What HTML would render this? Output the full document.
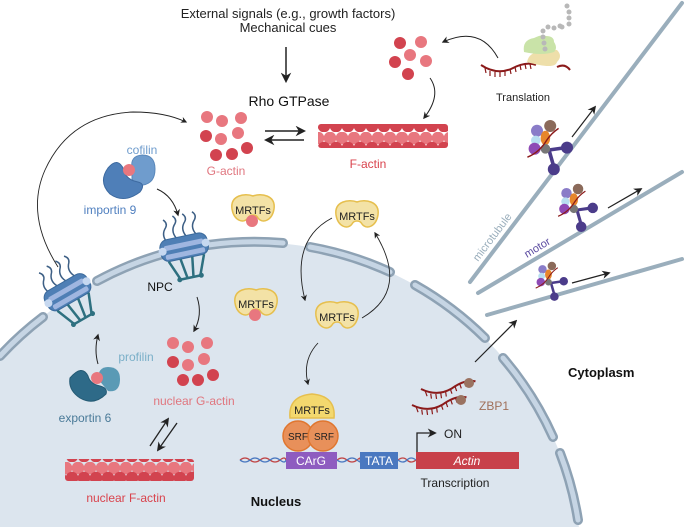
<!DOCTYPE html>
<html><head><meta charset="utf-8"><style>
html,body{margin:0;padding:0;background:#fff;overflow:hidden;width:685px;height:527px}
svg{display:block;overflow:hidden}
text{font-family:"Liberation Sans",sans-serif}
</style></head><body>
<svg width="685" height="527" viewBox="0 0 685 527" xmlns="http://www.w3.org/2000/svg">
<defs>
<clipPath id="cp"><rect width="685" height="527"/></clipPath>
<marker id="ah" viewBox="0 0 10 10" refX="8" refY="5" markerWidth="7" markerHeight="7" orient="auto-start-reverse"><path d="M0,0 L10,5 L0,10 L3,5Z" fill="#222"/></marker>
<pattern id="fil" width="12" height="22" patternUnits="userSpaceOnUse">
<circle cx="6" cy="6" r="6.3" fill="#e8777f"/><circle cx="0" cy="16" r="6.3" fill="#d2434f"/><circle cx="12" cy="16" r="6.3" fill="#d2434f"/>
</pattern>
<g id="mrtf"><path d="M-21,-1 C-23,-15 -8,-17 0,-14 C8,-17 23,-15 21,-1 C19,11 9,14 5,8 C3,4 -3,4 -5,8 C-9,14 -19,11 -21,-1Z" fill="#f3e2a6" stroke="#e6bf4e" stroke-width="1.5"/></g>
<g id="npc">
<path d="M-6,-20 q-4,-8 2,-14 q3,-4 -1,-8 M4,-20 q-4,-8 2,-14 q3,-4 -1,-8 M14,-20 q-4,-8 2,-14 q3,-4 -1,-8 M-16,-18 q-4,-8 2,-14 q3,-4 -1,-8" stroke="#3d5f85" stroke-width="1.5" fill="none"/>
<rect x="-24" y="-20" width="48" height="22" rx="8" fill="#4f7fb5" stroke="#3b6a9c"/>
<rect x="-20" y="-14" width="40" height="5" rx="2" fill="#9fb6e0"/>
<rect x="-20" y="-5" width="40" height="5" rx="2" fill="#9fb6e0"/>
<circle cx="-22" cy="-9" r="4" fill="#c6d8f0"/><circle cx="22" cy="-9" r="4" fill="#c6d8f0"/>
<path d="M-18,2 L-10,22 M-6,2 L-3,22 M6,2 L3,22 M18,2 L10,22 M-12,22 L12,22" stroke="#2e7080" stroke-width="2.5" fill="none"/>
<circle cx="-11" cy="22" r="2.5" fill="#2e7080"/><circle cx="11" cy="22" r="2.5" fill="#2e7080"/>
</g>
<g id="motor">
<path d="M0,0 L14,-2 M0,0 L4,14" stroke="#4b3c8a" stroke-width="3"/>
<circle cx="15" cy="-2" r="5" fill="#4b3c8a"/><circle cx="4" cy="16" r="5" fill="#4b3c8a"/>
<circle cx="-10" cy="-16" r="5" fill="#8a7cc8"/><circle cx="-11" cy="-8" r="4" fill="#b8def0"/><circle cx="-12" cy="-1" r="5" fill="#8e4ab5"/>
<ellipse cx="-3" cy="-10" rx="4" ry="6" fill="#e7862b"/><circle cx="-3" cy="-1" r="4" fill="#777"/><circle cx="1" cy="-20" r="5" fill="#8b6a5a"/>
<path d="M-18,6 Q-8,2 -2,-8 Q2,-14 8,-18" stroke="#8b1a1a" stroke-width="1.2" fill="none"/>
</g>
<g id="mrna"><path d="M0,0 Q15,10 30,4 Q45,-4 55,0" stroke="#8b1a1a" stroke-width="2" fill="none"/>
<path d="M4,3 l1,5 M9,6 l0,5 M14,7 l0,5 M19,7 l0,5 M24,6 l0,5 M29,4 l1,5 M34,2 l1,5 M39,0 l1,5 M44,-1 l1,5 M49,-1 l1,5" stroke="#8b1a1a" stroke-width="1.2"/></g>
</defs>
<g clip-path="url(#cp)">
<circle cx="252" cy="572" r="330" fill="#dce5ee"/>
<g fill="none" stroke-linecap="round">
<g stroke="#8ea2b4" stroke-width="10">
<path d="M0,356 A330,330 0 0 1 43,317"/>
<path d="M97,281 A330,330 0 0 1 163,254"/>
<path d="M208,245 A330,330 0 0 1 283,243"/>
<path d="M310,247 A330,330 0 0 1 390,272"/>
<path d="M415,285 A330,330 0 0 1 485,338"/>
<path d="M503,358 A330,330 0 0 1 553,437"/>
<path d="M560,453 A330,330 0 0 1 578,520"/>
</g>
<g stroke="#c6d5e4" stroke-width="5">
<path d="M0,356 A330,330 0 0 1 43,317"/>
<path d="M97,281 A330,330 0 0 1 163,254"/>
<path d="M208,245 A330,330 0 0 1 283,243"/>
<path d="M310,247 A330,330 0 0 1 390,272"/>
<path d="M415,285 A330,330 0 0 1 485,338"/>
<path d="M503,358 A330,330 0 0 1 553,437"/>
<path d="M560,453 A330,330 0 0 1 578,520"/>
</g>
</g>
</g>

<g stroke="#9aaebc" stroke-width="4" stroke-linecap="round">
<line x1="470" y1="282" x2="682" y2="3"/>
<line x1="478" y1="293" x2="682" y2="172"/>
<line x1="487" y1="315" x2="682" y2="259"/>
</g>
<text transform="translate(478,262) rotate(-53)" font-size="11" fill="#9aaebc">microtubule</text>
<text transform="translate(527,258) rotate(-31)" font-size="11" fill="#5a4aa0">motor</text>
<use href="#motor" transform="translate(549,150) scale(1.2)"/>
<use href="#motor" transform="translate(577,210) scale(1.05)"/>
<use href="#motor" transform="translate(551,283) scale(0.85)"/>
<g stroke="#222" stroke-width="1.2" marker-end="url(#ah)" fill="none">
<line x1="572" y1="137" x2="595" y2="107"/>
<line x1="608" y1="208" x2="641" y2="189"/>
<line x1="572" y1="283" x2="609" y2="273"/>
<line x1="475" y1="362" x2="516" y2="321"/>
</g>

<text x="288" y="18" font-size="13" text-anchor="middle" fill="#222">External signals (e.g., growth factors)</text>
<text x="288" y="32" font-size="13" text-anchor="middle" fill="#222">Mechanical cues</text>
<line x1="286" y1="47" x2="286" y2="81" stroke="#222" stroke-width="1.5" marker-end="url(#ah)"/>
<text x="289" y="106" font-size="14" text-anchor="middle" fill="#111">Rho GTPase</text>

<g>
<circle cx="207" cy="117" r="6" fill="#e8777f"/><circle cx="222" cy="121" r="6" fill="#e8777f"/><circle cx="241" cy="118" r="6" fill="#e8777f"/>
<circle cx="206" cy="136" r="6" fill="#d2434f"/><circle cx="221" cy="139" r="6" fill="#e8777f"/><circle cx="238" cy="133" r="6" fill="#e8777f"/>
<circle cx="216" cy="155" r="6" fill="#d2434f"/><circle cx="232" cy="154" r="6" fill="#d2434f"/><circle cx="247" cy="148" r="6" fill="#d2434f"/>
</g>
<text x="226" y="175" font-size="12" text-anchor="middle" fill="#e0767f">G-actin</text>
<line x1="265" y1="131" x2="304" y2="131" stroke="#222" stroke-width="1.5" marker-end="url(#ah)"/>
<line x1="304" y1="140" x2="266" y2="140" stroke="#222" stroke-width="1.5" marker-end="url(#ah)"/>
<rect x="318" y="124" width="130" height="24" fill="url(#fil)" rx="3"/>
<text x="368" y="168" font-size="12" text-anchor="middle" fill="#d9434d">F-actin</text>

<circle cx="400" cy="43" r="6" fill="#d2434f"/><circle cx="421" cy="42" r="6" fill="#e8777f"/>
<circle cx="410" cy="55" r="6" fill="#e8777f"/><circle cx="395" cy="62" r="6" fill="#d2434f"/>
<circle cx="426" cy="61" r="6" fill="#e8777f"/><circle cx="408" cy="74" r="6" fill="#d2434f"/>
<path d="M430,78 Q442,95 424,118" fill="none" stroke="#222" stroke-width="1" marker-end="url(#ah)"/>
<path d="M498,58 Q480,25 443,42" fill="none" stroke="#222" stroke-width="1" marker-end="url(#ah)"/>

<use href="#mrna" x="481" y="65"/>
<path d="M557,67 q8,-4 13,3" stroke="#8b1a1a" stroke-width="2" fill="none"/>
<path d="M527,62 q2,-10 14,-10 q8,-3 16,-2 q6,6 0,12 q-2,8 -30,0Z" fill="#eedfaa"/>
<path d="M524,52 q-2,-12 10,-14 q8,-4 12,-2 q8,0 8,6 q4,6 0,10 q-12,4 -30,0Z" fill="#c9e3a8"/>
<g fill="#b8b8b8"><circle cx="545" cy="49" r="2.5"/><circle cx="544" cy="43" r="2.5"/><circle cx="543" cy="37" r="2.5"/><circle cx="543" cy="31" r="2.5"/><circle cx="548" cy="27" r="2.5"/><circle cx="554" cy="28" r="2.5"/><circle cx="560" cy="26" r="2.5"/><circle cx="569" cy="24" r="2.5"/><circle cx="569" cy="18" r="2.5"/><circle cx="569" cy="12" r="2.5"/><circle cx="567" cy="6" r="2.5"/><circle cx="562" cy="27" r="2.5"/></g>
<text x="523" y="101" font-size="11" text-anchor="middle" fill="#222">Translation</text>

<path d="M58,267 Q25,215 45,170 Q70,115 133,112 Q165,112 186,122" fill="none" stroke="#222" stroke-width="0.9" marker-end="url(#ah)"/>

<path d="M132,168 q-2,-12 10,-13 q13,0 13,14 q0,14 -12,16 q-8,0 -11,-6Z" fill="#6f9ccd" stroke="#5a88bb"/>
<path d="M108,168 q-10,14 2,26 q14,10 30,-2 q6,-8 -2,-10 q-12,-2 -14,-12 q-6,-14 -16,-2Z" fill="#4f7fb8" stroke="#3d6aa0"/>
<circle cx="129" cy="170" r="6" fill="#e8777f"/>
<text x="142" y="154" font-size="12" text-anchor="middle" fill="#6f9ccd">cofilin</text>
<text x="110" y="214" font-size="12" text-anchor="middle" fill="#4f7fbf">importin 9</text>
<path d="M157,189 Q173,196 178,215" fill="none" stroke="#222" stroke-width="1" marker-end="url(#ah)"/>

<use href="#npc" transform="translate(72,300) rotate(-30)"/>
<use href="#npc" transform="translate(186,256) rotate(-12)"/>
<text x="160" y="291" font-size="12" text-anchor="middle" fill="#111">NPC</text>
<path d="M197,297 Q203,315 194,331" fill="none" stroke="#222" stroke-width="1" marker-end="url(#ah)"/>

<g>
<circle cx="173" cy="343" r="6" fill="#e8777f"/><circle cx="188" cy="347" r="6" fill="#e8777f"/><circle cx="207" cy="343" r="6" fill="#e8777f"/>
<circle cx="173" cy="362" r="6" fill="#d2434f"/><circle cx="188" cy="365" r="6" fill="#e8777f"/><circle cx="204" cy="359" r="6" fill="#e8777f"/>
<circle cx="183" cy="380" r="6" fill="#d2434f"/><circle cx="198" cy="380" r="6" fill="#d2434f"/><circle cx="213" cy="375" r="6" fill="#d2434f"/>
</g>
<text x="194" y="405" font-size="12" text-anchor="middle" fill="#e0767f">nuclear G-actin</text>
<line x1="150" y1="446" x2="168" y2="419" stroke="#222" stroke-width="1.3" marker-end="url(#ah)"/>
<line x1="177" y1="423" x2="158" y2="450" stroke="#222" stroke-width="1.3" marker-end="url(#ah)"/>
<rect x="65" y="459" width="129" height="22" fill="url(#fil)" rx="3"/>
<text x="126" y="502" font-size="12" text-anchor="middle" fill="#d9434d">nuclear F-actin</text>

<text x="136" y="361" font-size="12" text-anchor="middle" fill="#7aafc8">profilin</text>
<path d="M98,379 q0,-12 10,-12 q12,0 12,12 q0,14 -12,12Z" fill="#5a9ab5"/>
<path d="M70,378 q-2,12 10,20 q14,8 26,-4 q2,-6 -6,-8 q-10,-2 -12,-10 q-6,-12 -18,2Z" fill="#2e6a88" stroke="#245a74"/>
<circle cx="97" cy="378" r="6" fill="#e8777f"/>
<text x="85" y="422" font-size="12" text-anchor="middle" fill="#4a7a98">exportin 6</text>
<path d="M98,364 Q94,350 98,335" fill="none" stroke="#222" stroke-width="1" marker-end="url(#ah)"/>

<use href="#mrtf" x="253" y="210"/><circle cx="252" cy="221" r="6" fill="#e8777f"/>
<use href="#mrtf" x="357" y="216"/>
<use href="#mrtf" x="256" y="304"/><circle cx="255" cy="315" r="6" fill="#e8777f"/>
<use href="#mrtf" x="337" y="317"/>
<text x="253" y="214" font-size="11" text-anchor="middle" fill="#222">MRTFs</text>
<text x="357" y="220" font-size="11" text-anchor="middle" fill="#222">MRTFs</text>
<text x="256" y="308" font-size="11" text-anchor="middle" fill="#222">MRTFs</text>
<text x="337" y="321" font-size="11" text-anchor="middle" fill="#222">MRTFs</text>
<path d="M332,218 Q290,240 305,300" fill="none" stroke="#222" stroke-width="0.9" marker-end="url(#ah)"/>
<path d="M362,318 Q410,290 375,233" fill="none" stroke="#222" stroke-width="0.9" marker-end="url(#ah)"/>
<path d="M318,343 Q302,360 308,384" fill="none" stroke="#222" stroke-width="0.9" marker-end="url(#ah)"/>

<path d="M290,418 q-2,-22 22,-24 q24,2 22,24Z" fill="#f3d86e" stroke="#e6bf4e" stroke-width="1.5"/>
<text x="312" y="414" font-size="11" text-anchor="middle" fill="#222">MRTFs</text>
<circle cx="298" cy="436" r="15" fill="#e8905a" stroke="#e0762f" stroke-width="1.5"/>
<circle cx="323" cy="436" r="15" fill="#e8905a" stroke="#e0762f" stroke-width="1.5"/>
<text x="298" y="440" font-size="10" text-anchor="middle" fill="#222">SRF</text>
<text x="324" y="440" font-size="10" text-anchor="middle" fill="#222">SRF</text>
<path d="M240,460 q5,-4 10,0 t10,0 t10,0 t10,0 t6,0 M337,460 q5,-4 10,0 t10,0 t3,0 M398,460 q5,-4 9,0 t9,0" stroke="#c04444" stroke-width="1.3" fill="none"/>
<path d="M240,460 q5,4 10,0 t10,0 t10,0 t10,0 t6,0 M337,460 q5,4 10,0 t10,0 t3,0 M398,460 q5,4 9,0 t9,0" stroke="#4a78c0" stroke-width="1.3" fill="none"/>
<rect x="286" y="452" width="51" height="17" fill="#8e5cc0"/>
<text x="311" y="465" font-size="12" text-anchor="middle" fill="#fff">CArG</text>
<rect x="360" y="452" width="38" height="17" fill="#4a78c0"/>
<text x="379" y="465" font-size="12" text-anchor="middle" fill="#fff">TATA</text>
<rect x="416" y="452" width="103" height="17" fill="#c8404a"/>
<text x="467" y="465" font-size="12" text-anchor="middle" fill="#fff" font-style="italic">Actin</text>
<path d="M417,452 L417,433 L435,433" fill="none" stroke="#222" stroke-width="1.3" marker-end="url(#ah)"/>
<text x="444" y="438" font-size="12" fill="#222">ON</text>
<text x="455" y="487" font-size="12" text-anchor="middle" fill="#222">Transcription</text>

<use href="#mrna" x="421" y="389" transform="rotate(-8 421 389)"/>
<use href="#mrna" x="412" y="405" transform="rotate(-8 412 405)"/>
<circle cx="469" cy="383" r="5" fill="#9a7260"/><circle cx="461" cy="400" r="5" fill="#9a7260"/>
<text x="479" y="410" font-size="12" fill="#a0705a">ZBP1</text>

<text x="568" y="377" font-size="13" font-weight="bold" fill="#111">Cytoplasm</text>
<text x="276" y="506" font-size="13" font-weight="bold" fill="#111" text-anchor="middle">Nucleus</text>
</svg>
</body></html>
